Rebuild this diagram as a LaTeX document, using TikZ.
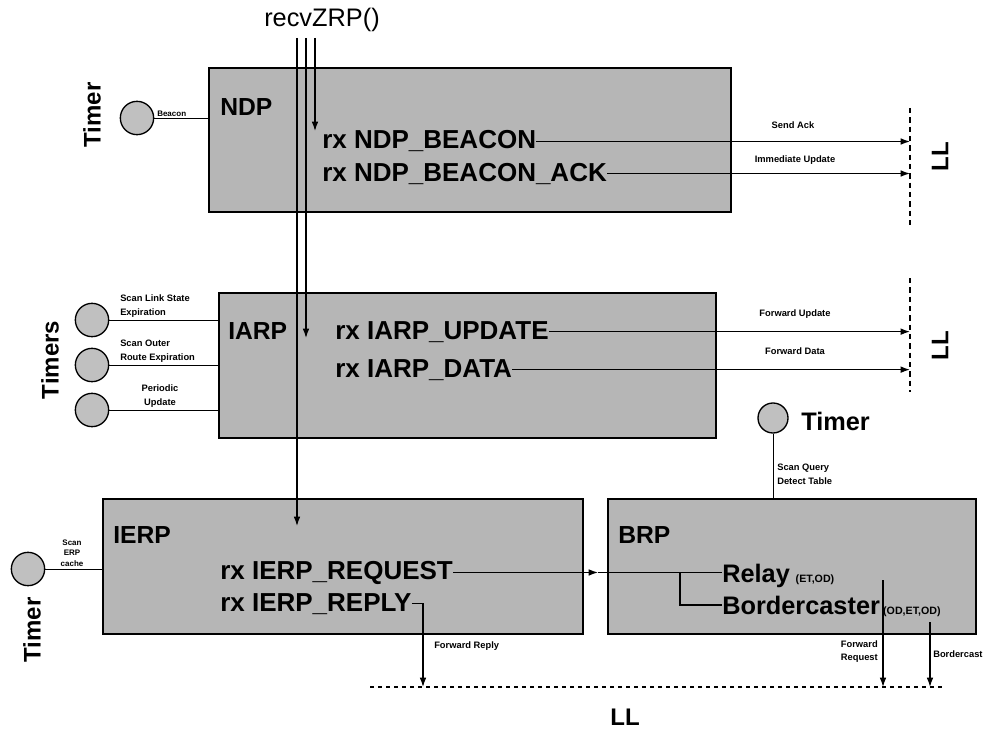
\documentclass[tikz,border=0pt]{standalone}
\usepackage{fontspec}
\setmainfont{Liberation Sans}
\usetikzlibrary{arrows.meta}
\definecolor{boxgray}{RGB}{182,182,182}
\definecolor{circgray}{RGB}{192,192,192}
\begin{document}
\begin{tikzpicture}[x=0.75pt,y=-0.75pt,
  blockbox/.style={draw=black,line width=1.4pt,fill=boxgray,inner sep=0pt,anchor=north west},
  timerc/.style={circle,draw=black,line width=1pt,fill=circgray,inner sep=0pt,minimum size=25pt},
  msg/.style={font=\fontsize{19.5}{21}\selectfont\bfseries,inner sep=0pt,anchor=base west},
  title/.style={font=\fontsize{18.5}{21}\selectfont\bfseries,inner sep=0pt,anchor=base west},
  tmrlabel/.style={font=\fontsize{18}{20}\selectfont\bfseries,inner sep=0pt},
  tiny/.style={font=\fontsize{7}{11}\selectfont\bfseries,inner sep=0pt},
  tag/.style={font=\fontsize{8}{9}\selectfont\bfseries,inner sep=0pt,anchor=base west},
  thin/.style={line width=0.7pt},
  arr/.style={-{Latex[length=7pt,width=5pt]},line width=0.9pt},
  lldash/.style={line width=1.2pt,dash pattern=on 4pt off 3pt},
]
\useasboundingbox (0,0) rectangle (992,731);

% ---- boxes
\node[blockbox,minimum width=391.5pt,minimum height=108pt] (ndp) at (208,67) {};
\node[blockbox,minimum width=372.75pt,minimum height=108.75pt] (iarp) at (218,292) {};
\node[blockbox,minimum width=360pt,minimum height=101.25pt] (ierp) at (102,498) {};
\node[blockbox,minimum width=276pt,minimum height=101.25pt] (brp) at (607,498) {};

% ---- titles
\node[title] (tndp) at (220,116) {NDP};
\node[title] (tiarp) at (228,339) {IARP};
\node[title] (tierp) at (113,543) {IERP};
\node[title] (tbrp) at (618,543) {BRP};

% ---- messages
\node[msg] (beacon) at (322,149) {rx NDP\_BEACON};
\node[msg] (beaconack) at (322,181) {rx NDP\_BEACON\_ACK};
\node[msg] (upd) at (335,339) {rx IARP\_UPDATE};
\node[msg] (dat) at (335,377) {rx IARP\_DATA};
\node[msg] (req) at (220,579) {rx IERP\_REQUEST};
\node[msg] (rep) at (220,611) {rx IERP\_REPLY};
\node[msg,font=\fontsize{19}{21}\selectfont\bfseries] (relay) at (722,582) {Relay};
\node[msg,font=\fontsize{19}{21}\selectfont\bfseries] (bord) at (722,614) {Bordercaster};
\node[tag,xshift=4pt] (relaytag) at (relay.base east) {(ET,OD)};
\node[tag,xshift=2pt] (bordtag) at (bord.base east) {(OD,ET,OD)};

% ---- recvZRP
\node[font=\fontsize{19}{21}\selectfont,inner sep=0pt] (recv) at (322,20) {recvZRP()};
\coordinate (r1) at (297,38);
\coordinate (r2) at (306,38);
\coordinate (r3) at (315,38);
\coordinate (r3e) at (315,131);
\coordinate (r2e) at (306,338);
\coordinate (r1e) at (297,526);
\draw[arr] (r3) -- (r3e);
\draw[arr] (r2) -- (r2e);
\draw[arr] (r1) -- (r1e);

% ---- LL right side
\coordinate (llA1) at (910,108);
\coordinate (llA2) at (910,226);
\coordinate (llB1) at (910,278);
\coordinate (llB2) at (910,392);
\draw[lldash] (llA1) -- (llA2);
\draw[lldash] (llB1) -- (llB2);
\node[tmrlabel,rotate=90] (llA) at (940,157) {LL};
\node[tmrlabel,rotate=90] (llB) at (940,346) {LL};

\draw[arr] (beacon.east) -- (beacon.east -| llA1);
\draw[arr] (beaconack.east) -- (beaconack.east -| llA1);
\draw[arr] (upd.east) -- (upd.east -| llB1);
\draw[arr] (dat.east) -- (dat.east -| llB1);
\node[tiny,anchor=base] (lsend) at (793,129) {Send Ack};
\node[tiny,anchor=base] (limm) at (795,163) {Immediate Update};
\node[tiny,anchor=base] (lfu) at (795,316) {Forward Update};
\node[tiny,anchor=base] (lfd) at (795,354) {Forward Data};

% ---- NDP timer
\node[timerc] (tn) at (137,118) {};
\draw[thin] (tn.east) -- (tn.east -| ndp.west);
\node[tiny,anchor=south west,font=\fontsize{6}{7}\selectfont\bfseries] (lbeacon) at (157,117) {Beacon};
\node[tmrlabel,rotate=90] (tnl) at (92,115) {Timer};

% ---- IARP timers
\node[timerc] (ta) at (92,320) {};
\node[timerc] (tb) at (92,365) {};
\node[timerc] (tc) at (92,410) {};
\draw[thin] (ta.east) -- (ta.east -| iarp.west);
\draw[thin] (tb.east) -- (tb.east -| iarp.west);
\draw[thin] (tc.east) -- (tc.east -| iarp.west);
\node[tiny,anchor=south west,align=left] (la) at (120,318) {Scan Link State\\Expiration};
\node[tiny,anchor=south west,align=left] (lb) at (120,363) {Scan Outer\\Route Expiration};
\node[tiny,anchor=south,align=center] (lc) at (160,408) {Periodic\\Update};
\node[tmrlabel,rotate=90] (tsl) at (50,360) {Timers};

% ---- IERP timer
\node[timerc] (te) at (28,569) {};
\draw[thin] (te.east) -- (te.east -| ierp.west);
\node[tiny,anchor=south,align=center,font=\fontsize{6}{8}\selectfont\bfseries] (le) at (72,567) {Scan\\ERP\\cache};
\node[tmrlabel,rotate=90] (tel) at (32,630) {Timer};

% ---- BRP timer
\node[timerc,minimum size=22.5pt] (tbr) at (773,418) {};
\draw[thin] (tbr.south) -- (tbr.south |- brp.north);
\node[tiny,anchor=north west,align=left,font=\fontsize{7}{10}\selectfont\bfseries] (lq) at (777,464) {Scan Query\\Detect Table};
\node[tmrlabel,anchor=west,font=\fontsize{19}{21}\selectfont\bfseries] (tbrl) at (801,421) {Timer};

% ---- IERP -> BRP
\coordinate (mida) at (598,0);
\coordinate (brj) at (680,0);
\draw[arr] (req.east) -- (mida |- req.east);
\draw[line width=0.9pt] (mida |- req.east) -- (req.east -| relay.west);
\draw[line width=0.9pt] (brj |- req.east) |- (bord.west);

% ---- bottom LL
\coordinate (llb1) at (370,687);
\coordinate (llb2) at (945,687);
\draw[line width=1.1pt,dash pattern=on 3pt off 3pt] (llb1) -- (llb2);
\node[tmrlabel] (llbot) at (625,717) {LL};

\coordinate (fry) at (423,0);
\coordinate (frs) at (883,580);
\coordinate (bcs) at (930,622);
\draw[arr] (rep.east) -| (fry |- llb1);
\draw[arr] (frs) -- (frs |- llb1);
\draw[arr] (bcs) -- (bcs |- llb1);
\node[tiny,anchor=west] (lfr) at (434,646) {Forward Reply};
\node[tiny,anchor=north east,align=left,font=\fontsize{7}{10}\selectfont\bfseries] (lfq) at (878,640) {Forward\\Request};
\node[tiny,anchor=west] (lbc) at (933,654) {Bordercast};
\end{tikzpicture}
\end{document}
